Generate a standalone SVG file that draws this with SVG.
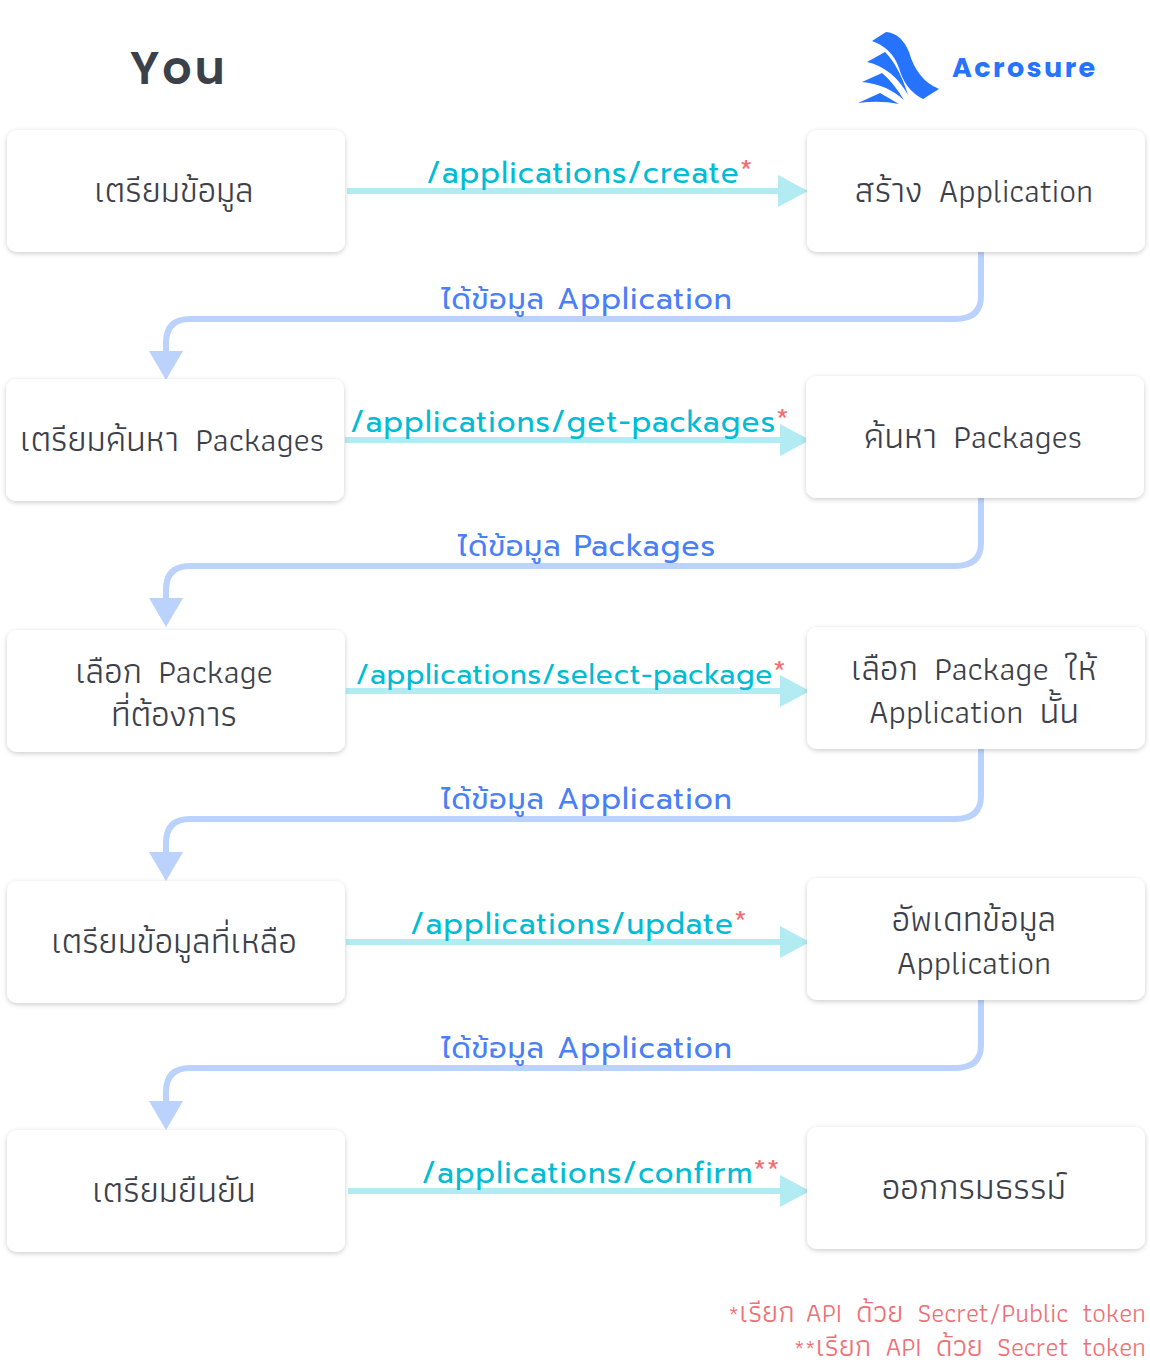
<svg xmlns="http://www.w3.org/2000/svg" width="1150" height="1372" viewBox="0 0 1150 1372">
<style>
text{font-family:Prompt,Kanit,"Noto Sans",sans-serif}
.box{fill:#fff;filter:url(#sh)}
.t{font-family:Athiti,"Noto Sans Thai",sans-serif;font-size:34px;font-weight:400;fill:#3c4048;text-anchor:middle;word-spacing:6px}
.th{font-size:35.500px}
.ap{font-size:33.200px}
.api{font-size:29.500px;font-weight:400;fill:#00bcd4;text-anchor:middle;letter-spacing:1.200px}
.ret{font-size:30px;font-weight:400;fill:#4a80f5;text-anchor:middle;letter-spacing:1px}
.star{fill:#ef6f74;font-size:28px}
.h{fill:none;stroke:#b2ebf2;stroke-width:6}
.r{fill:none;stroke:#bbd2fd;stroke-width:6}
.note{font-family:Athiti,"Noto Sans Thai",sans-serif;font-size:27px;font-weight:400;fill:#ee7076;text-anchor:end;word-spacing:6px}
.nth{font-size:30px}
.ns{font-size:23px}
</style>
<defs>
<filter id="sh" x="-5%" y="-10%" width="110%" height="125%"><feDropShadow dx="0" dy="1.500" stdDeviation="2.500" flood-color="#000" flood-opacity="0.2"/></filter>
<marker id="ah" markerUnits="userSpaceOnUse" markerWidth="30" markerHeight="32" refX="0" refY="16" orient="auto"><path d="M0 0L30 16L0 32Z" fill="#b2ebf2"/></marker>
<marker id="ar" markerUnits="userSpaceOnUse" markerWidth="29" markerHeight="34" refX="0" refY="17" orient="auto"><path d="M0 0L29 17L0 34Z" fill="#bbd2fd"/></marker>
</defs>
<rect width="1150" height="1372" fill="#fff"/>
<g id="connectors">
<path class="h" d="M347 191H778" marker-end="url(#ah)"/>
<path class="h" d="M345 440H780" marker-end="url(#ah)"/>
<path class="h" d="M346 691H780" marker-end="url(#ah)"/>
<path class="h" d="M346 942H780" marker-end="url(#ah)"/>
<path class="h" d="M348 1191H780" marker-end="url(#ah)"/>
<path class="r" d="M981 252V296Q981 319 955 319H190Q166 319 166 343V351" marker-end="url(#ar)"/>
<path class="r" d="M981 498V543Q981 566 955 566H190Q166 566 166 590V598" marker-end="url(#ar)"/>
<path class="r" d="M981 749V796Q981 819 955 819H190Q166 819 166 843V852" marker-end="url(#ar)"/>
<path class="r" d="M981 1000V1045Q981 1068 955 1068H190Q166 1068 166 1092V1101" marker-end="url(#ar)"/>
<text class="api" x="590" y="183">/applications/create<tspan class="star" dy="-3">*</tspan></text>
<text class="api" x="570" y="432">/applications/get-packages<tspan class="star" dy="-3">*</tspan></text>
<text class="api" x="571" y="684" style="font-size:28px;letter-spacing:0.800px">/applications/select-package<tspan class="star" dy="-3">*</tspan></text>
<text class="api" x="579" y="934">/applications/update<tspan class="star" dy="-3">*</tspan></text>
<text class="api" x="601" y="1183">/applications/confirm<tspan class="star" dy="-3">**</tspan></text>
<text class="ret" x="587" y="309"><tspan font-size="28.500">ได้ข้อมูล</tspan> Application</text>
<text class="ret" x="587" y="556"><tspan font-size="28.500">ได้ข้อมูล</tspan> Packages</text>
<text class="ret" x="587" y="809"><tspan font-size="28.500">ได้ข้อมูล</tspan> Application</text>
<text class="ret" x="587" y="1058"><tspan font-size="28.500">ได้ข้อมูล</tspan> Application</text>
</g>
<g id="you"><text x="130" y="84" style="font-family:Poppins,Prompt,sans-serif;font-size:46px;font-weight:600;fill:#3c4048;letter-spacing:3px">You</text></g>
<g id="logo" fill="#2673ff">
<path d="M872 41L886 32Q901 33 909 52Q917 80 939 89L923 99Q905 90 899 68Q892 48 872 41Z"/>
<path d="M867 62L885 52Q899 66 908 95Q893 68 867 62Z"/>
<path d="M862 82L882 73Q893 82 904 100Q886 84 862 82Z"/>
<path d="M858 103L880 93L899 104Q880 100 858 103Z"/>
<text x="952" y="77" style="font-family:Poppins,Prompt,sans-serif;font-size:27px;font-weight:700;letter-spacing:2.400px">Acrosure</text>
</g>
<g id="n1"><rect class="box" x="7" y="130" width="338" height="122" rx="10"/><text class="t" x="174" y="202"><tspan class="th">เตรียมข้อมูล</tspan></text></g>
<g id="n2"><rect class="box" x="807" y="130" width="338" height="122" rx="10"/><text class="t" x="974" y="202"><tspan class="th">สร้าง</tspan> <tspan class="ap">Application</tspan></text></g>
<g id="n3"><rect class="box" x="6" y="379" width="338" height="122" rx="10"/><text class="t" x="172" y="451"><tspan class="th">เตรียมค้นหา</tspan> Packages</text></g>
<g id="n4"><rect class="box" x="806" y="376" width="338" height="122" rx="10"/><text class="t" x="973" y="448"><tspan class="th">ค้นหา</tspan> Packages</text></g>
<g id="n5"><rect class="box" x="7" y="630" width="338" height="122" rx="10"/><text class="t" x="174" y="683"><tspan class="th">เลือก</tspan> Package</text><text class="t" x="174" y="726"><tspan class="th">ที่ต้องการ</tspan></text></g>
<g id="n6"><rect class="box" x="807" y="627" width="338" height="122" rx="10"/><text class="t" x="974" y="680"><tspan class="th">เลือก</tspan> Package <tspan class="th">ให้</tspan></text><text class="t" x="974" y="723"><tspan class="ap">Application</tspan> <tspan class="th">นั้น</tspan></text></g>
<g id="n7"><rect class="box" x="7" y="881" width="338" height="122" rx="10"/><text class="t" x="174" y="953"><tspan class="th">เตรียมข้อมูลที่เหลือ</tspan></text></g>
<g id="n8"><rect class="box" x="807" y="878" width="338" height="122" rx="10"/><text class="t" x="974" y="931"><tspan class="th">อัพเดทข้อมูล</tspan></text><text class="t" x="974" y="974"><tspan class="ap">Application</tspan></text></g>
<g id="n9"><rect class="box" x="7" y="1130" width="338" height="122" rx="10"/><text class="t" x="174" y="1202"><tspan class="th">เตรียมยืนยัน</tspan></text></g>
<g id="n10"><rect class="box" x="807" y="1127" width="338" height="122" rx="10"/><text class="t" x="974" y="1199"><tspan class="th" style="font-size:36px">ออกกรมธรรม์</tspan></text></g>
<g id="notes"><text class="note" x="1146" y="1322"><tspan class="ns">*</tspan><tspan class="nth">เรียก</tspan><tspan style="word-spacing:3px"> </tspan>API <tspan class="nth">ด้วย</tspan> Secret/Public token</text><text class="note" x="1146" y="1356"><tspan class="ns">**</tspan><tspan class="nth">เรียก</tspan> API <tspan class="nth">ด้วย</tspan> Secret token</text></g>
</svg>
